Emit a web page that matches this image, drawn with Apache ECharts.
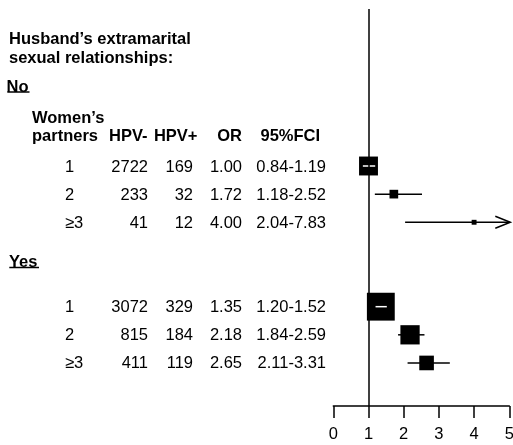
<!DOCTYPE html>
<html>
<head>
<meta charset="utf-8">
<script src="https://cdn.jsdelivr.net/npm/echarts@6/dist/echarts.min.js"></script>
<style>
html,body{margin:0;padding:0;background:#fff;}
#chart{width:513px;height:445px;}
</style>
</head>
<body>
<div id="chart"></div>
<script>
// ---- data ----
const rowLabels = ['1', '2', '\u22653', '1', '2', '\u22653'];
const groups = ['No', 'No', 'No', 'Yes', 'Yes', 'Yes'];
const hpvNeg = [2722, 233, 41, 3072, 815, 411];
const hpvPos = [169, 32, 12, 329, 184, 119];
const orVals = [1.00, 1.72, 4.00, 1.35, 2.18, 2.65];
const ciLow = [0.84, 1.18, 2.04, 1.20, 1.84, 2.11];
const ciHigh = [1.19, 2.52, 7.83, 1.52, 2.59, 3.31];
const rowPos = [0, 1, 2, 5, 6, 7];
const xTicks = [0, 1, 2, 3, 4, 5];
const refValue = 1;

const FONT = '"Liberation Sans", Arial, Helvetica, sans-serif';
const FS = 16.5;
const X_MAX = xTicks[xTicks.length - 1];

const chart = echarts.init(document.getElementById('chart'), null, {renderer: 'canvas'});

const forestData = orVals.map((v, i) => [v, rowPos[i], ciLow[i], ciHigh[i], i]);
const tableData = orVals.map((v, i) => [0, rowPos[i], i]);

function fmt2(v) { return v.toFixed(2); }

function renderForest(params, api) {
  const or = api.value(0), row = api.value(1), lo = api.value(2), hi = api.value(3);
  const c = api.coord([or, row]);
  const y = c[1];
  const loX = api.coord([lo, row])[0];
  const hiX = api.coord([Math.min(hi, X_MAX), row])[0];
  const se = (Math.log(hi) - Math.log(lo)) / (2 * 1.96);
  const size = 1.68 / se;
  const half = size / 2;
  const children = [];
  children.push({type: 'line', shape: {x1: loX, y1: y, x2: hiX, y2: y},
    style: {stroke: '#000', lineWidth: 1.5}});
  if (hi > X_MAX) {
    const tip = hiX + 1;
    children.push({type: 'polyline', shape: {points: [[tip - 15, y - 6], [tip, y], [tip - 15, y + 6]]},
      style: {stroke: '#000', lineWidth: 1.5, fill: null}});
  }
  children.push({type: 'rect', shape: {x: c[0] - half, y: y - half, width: size, height: size},
    style: {fill: '#000'}});
  if (loX >= c[0] - half && hiX <= c[0] + half) {
    children.push({type: 'line', shape: {x1: loX, y1: y, x2: hiX, y2: y},
      style: {stroke: '#fff', lineWidth: 1.5}});
  }
  return {type: 'group', children: children};
}

function txt(x, y, s, align, bold) {
  return {type: 'text', x: x, y: y + 1,
    style: {text: s, fill: '#000', font: (bold ? 'bold ' : '') + FS + 'px ' + FONT,
      align: align, verticalAlign: 'middle'}};
}

function renderTable(params, api) {
  const i = api.value(2);
  const y = api.coord([0, api.value(1)])[1];
  return {type: 'group', children: [
    txt(65, y, rowLabels[i], 'left', false),
    txt(148, y, String(hpvNeg[i]), 'right', false),
    txt(193, y, String(hpvPos[i]), 'right', false),
    txt(242, y, fmt2(orVals[i]), 'right', false),
    txt(326, y, fmt2(ciLow[i]) + '-' + fmt2(ciHigh[i]), 'right', false)
  ]};
}

const option = {
  animation: false,
  backgroundColor: '#fff',
  grid: {left: 333.3, right: 3.7, top: 9, bottom: 39, containLabel: false, outerBoundsMode: 'none'},
  xAxis: {
    type: 'value', min: 0, max: X_MAX, interval: 1,
    axisLine: {show: true, onZero: false, lineStyle: {color: '#000', width: 1.5}},
    axisTick: {show: true, length: 12, lineStyle: {color: '#000', width: 1.5}},
    axisLabel: {color: '#000', fontSize: FS, fontFamily: FONT, margin: 20,
      hideOverlap: false, formatter: v => String(v)},
    splitLine: {show: false}
  },
  yAxis: {type: 'value', inverse: true, min: -5.58, max: 8.53, show: false},
  series: [
    {type: 'custom', name: 'forest', clip: false, renderItem: renderForest, data: forestData, z: 2},
    {type: 'custom', name: 'table', clip: false, renderItem: renderTable, data: tableData, z: 2},
    {type: 'line', name: 'ref', data: [], z: 10, silent: true,
      markLine: {silent: true, symbol: ['none', 'none'], label: {show: false},
        lineStyle: {color: '#000', width: 1.5, type: 'solid'},
        data: [{xAxis: refValue}], animation: false}}
  ],
  graphic: [
    txt(9, 38.3, 'Husband\u2019s extramarital', 'left', true),
    txt(9, 57.5, 'sexual relationships:', 'left', true),
    txt(6.5, 86.5, groups[0], 'left', true),
    {type: 'line', shape: {x1: 7.3, y1: 92, x2: 29.5, y2: 92}, style: {stroke: '#000', lineWidth: 1.5}},
    txt(9, 261, groups[3], 'left', true),
    {type: 'line', shape: {x1: 9.3, y1: 267.5, x2: 39, y2: 267.5}, style: {stroke: '#000', lineWidth: 1.5}},
    txt(32, 117, 'Women\u2019s', 'left', true),
    txt(32, 135, 'partners', 'left', true),
    txt(147.5, 135, 'HPV-', 'right', true),
    txt(197.5, 135, 'HPV+', 'right', true),
    txt(242, 135, 'OR', 'right', true),
    txt(260.5, 135, '95%FCI', 'left', true)
  ]
};
chart.setOption(option);
</script>
</body>
</html>
